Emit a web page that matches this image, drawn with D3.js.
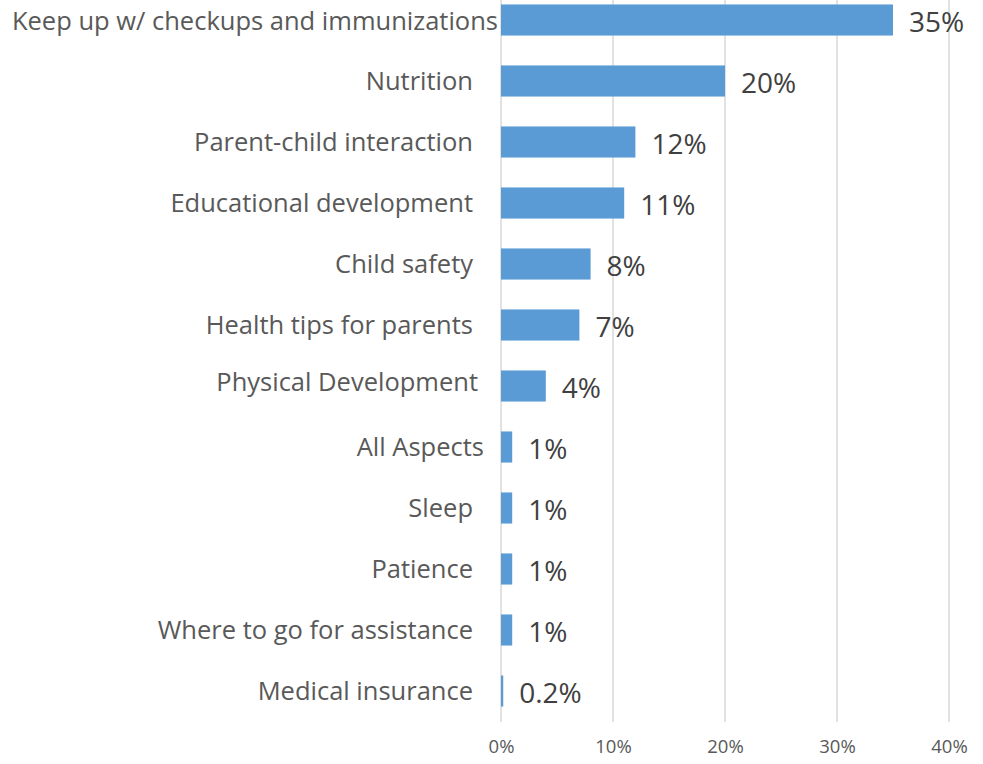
<!DOCTYPE html>
<html>
<head>
<meta charset="utf-8">
<script src="https://cdn.jsdelivr.net/npm/d3@7"></script>
<style>
  html, body { margin: 0; padding: 0; background: #fff; }
  svg { display: block; }
</style>
</head>
<body>
<svg id="chart" width="983" height="764"></svg>
<script>
// Topics parents want information on (share of responses, %)
const categories = [
  "Keep up w/ checkups and immunizations",
  "Nutrition",
  "Parent-child interaction",
  "Educational development",
  "Child safety",
  "Health tips for parents",
  "Physical Development",
  "All Aspects",
  "Sleep",
  "Patience",
  "Where to go for assistance",
  "Medical insurance"
];
const values = [35, 20, 12, 11, 8, 7, 4, 1, 1, 1, 1, 0.2];
const valueLabels = ["35%", "20%", "12%", "11%", "8%", "7%", "4%", "1%", "1%", "1%", "1%", "0.2%"];
const tickValues = [0, 10, 20, 30, 40];
const tickLabels = ["0%", "10%", "20%", "30%", "40%"];

const svg = d3.select("#chart");
const font = "'Open Sans', 'DejaVu Sans', sans-serif";

const x = d3.scaleLinear().domain([0, 40]).range([501, 949]);
const y = d3.scaleBand().domain(categories).range([-10.5, 721.5]).paddingInner(0.49).paddingOuter(0.245);

// small hand nudges for a few category labels (dx, dy)
const catNudge = {
  "Keep up w/ checkups and immunizations": [25, 1],
  "Physical Development": [5, -4],
  "All Aspects": [11, 0]
};

// vertical gridlines
svg.append("g")
  .selectAll("line")
  .data(tickValues)
  .join("line")
  .attr("x1", d => x(d)).attr("x2", d => x(d))
  .attr("y1", 0).attr("y2", 722)
  .attr("stroke", "#d9d9d9")
  .attr("stroke-width", 1.5);

// x axis tick labels
const xAxis = d3.axisBottom(x)
  .tickValues(tickValues)
  .tickFormat((d, i) => tickLabels[i])
  .tickSize(0)
  .tickPadding(0);
const ax = svg.append("g").attr("transform", "translate(0,740)").call(xAxis);
ax.select(".domain").remove();
ax.selectAll("text")
  .attr("font-family", font)
  .attr("font-size", 18.5)
  .attr("fill", "#595959");

// bars
svg.append("g")
  .selectAll("rect")
  .data(categories)
  .join("rect")
  .attr("x", x(0))
  .attr("y", d => y(d))
  .attr("width", (d, i) => x(values[i]) - x(0))
  .attr("height", y.bandwidth())
  .attr("fill", "#5b9bd5");

// category labels
svg.append("g")
  .selectAll("text")
  .data(categories)
  .join("text")
  .attr("x", d => 473 + (catNudge[d] ? catNudge[d][0] : 0))
  .attr("y", d => y(d) + y.bandwidth() / 2 + (catNudge[d] ? catNudge[d][1] : 0))
  .attr("dy", "0.35em")
  .attr("text-anchor", "end")
  .attr("font-family", font)
  .attr("font-size", 25.5)
  .attr("fill", "#595959")
  .text(d => d);

// value labels
svg.append("g")
  .selectAll("text")
  .data(categories)
  .join("text")
  .attr("x", (d, i) => x(values[i]) + 16)
  .attr("y", d => y(d) + y.bandwidth() / 2 + 2)
  .attr("dy", "0.35em")
  .attr("font-family", font)
  .attr("font-size", 28)
  .attr("fill", "#404040")
  .text((d, i) => valueLabels[i]);
</script>
</body>
</html>
